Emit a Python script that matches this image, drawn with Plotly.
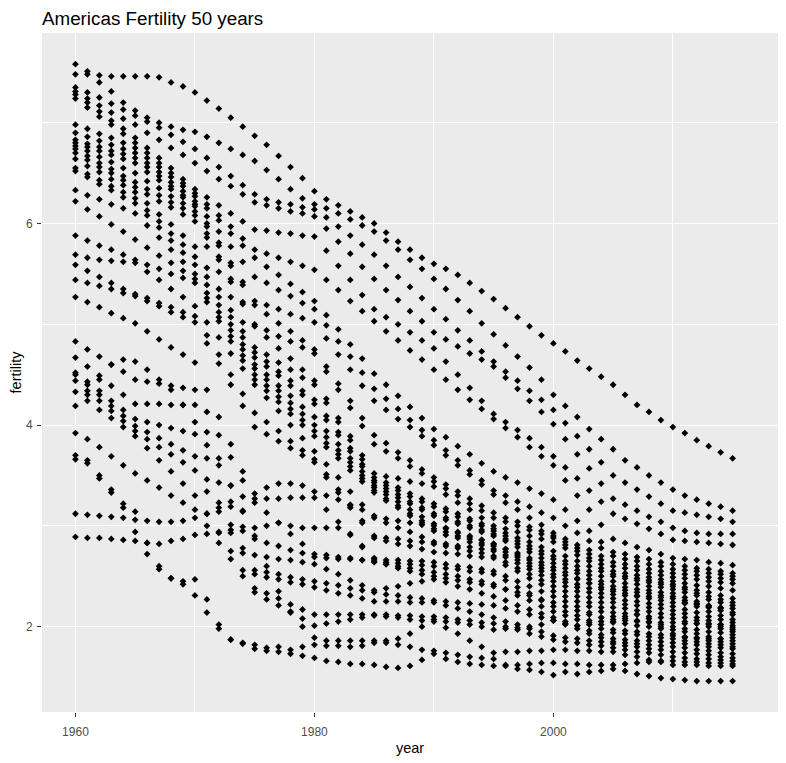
import plotly.graph_objects as go

# Jahre (x-Achse)
years = list(range(1960, 2016))

# Fertilitaet je Land, Werte 1960 ... 2015
s01 = [7.58, 7.51, 7.47, 7.46, 7.46, 7.46,
       7.46, 7.45, 7.40, 7.36, 7.30, 7.22, 7.14, 7.05, 6.96, 6.87,
       6.78, 6.67, 6.56, 6.45, 6.32, 6.24, 6.18, 6.12, 6.06, 6.00,
       5.91, 5.82, 5.74, 5.66, 5.60, 5.55, 5.49, 5.41, 5.33, 5.25,
       5.16, 5.07, 4.98, 4.89, 4.81, 4.73, 4.64, 4.56, 4.48, 4.40,
       4.30, 4.20, 4.13, 4.05, 3.98, 3.92, 3.85, 3.79, 3.73, 3.67]
s02 = [7.48, 7.48, 7.40, 7.31, 7.20, 7.12,
       7.05, 7.00, 6.96, 6.93, 6.91, 6.86, 6.80, 6.74, 6.68, 6.62,
       6.53, 6.44, 6.34, 6.25, 6.19, 6.15, 6.10, 6.04, 5.98, 5.92,
       5.83, 5.74, 5.64, 5.55, 5.45, 5.35, 5.24, 5.13, 5.01, 4.90,
       4.79, 4.68, 4.57, 4.45, 4.30, 4.19, 4.08, 3.96, 3.86, 3.76,
       3.65, 3.58, 3.50, 3.43, 3.36, 3.30, 3.26, 3.22, 3.19, 3.15]
s03 = [7.35, 7.30, 7.25, 7.19, 7.13, 7.07,
       7.01, 6.95, 6.88, 6.81, 6.74, 6.65, 6.56, 6.47, 6.38, 6.29,
       6.24, 6.21, 6.19, 6.16, 6.14, 6.06, 5.97, 5.88, 5.79, 5.69,
       5.58, 5.47, 5.37, 5.26, 5.15, 5.05, 4.94, 4.84, 4.73, 4.63,
       4.53, 4.44, 4.34, 4.25, 4.15, 4.02, 3.89, 3.76, 3.63, 3.50,
       3.43, 3.36, 3.29, 3.22, 3.15, 3.13, 3.11, 3.09, 3.07, 3.04]
s04 = [7.31, 7.24, 7.17, 7.10, 7.04, 6.98,
       6.90, 6.83, 6.75, 6.68, 6.60, 6.52, 6.44, 6.37, 6.29, 6.21,
       6.18, 6.15, 6.12, 6.10, 6.07, 5.95, 5.82, 5.70, 5.57, 5.45,
       5.34, 5.24, 5.13, 5.03, 4.92, 4.85, 4.78, 4.71, 4.65, 4.58,
       4.47, 4.36, 4.24, 4.13, 4.01, 3.86, 3.71, 3.57, 3.42, 3.27,
       3.21, 3.15, 3.09, 3.04, 2.98, 2.95, 2.93, 2.92, 2.92, 2.92]
s05 = [7.28, 7.20, 7.11, 7.02, 6.94, 6.85,
       6.75, 6.65, 6.55, 6.44, 6.34, 6.26, 6.18, 6.10, 6.02, 5.94,
       5.93, 5.91, 5.90, 5.88, 5.87, 5.73, 5.58, 5.44, 5.29, 5.15,
       5.07, 5.00, 4.92, 4.84, 4.76, 4.63, 4.50, 4.37, 4.24, 4.11,
       4.03, 3.95, 3.87, 3.78, 3.69, 3.58, 3.47, 3.35, 3.24, 3.12,
       3.07, 3.02, 2.97, 2.92, 2.86, 2.85, 2.84, 2.83, 2.82, 2.81]
s06 = [7.24, 7.15, 7.06, 6.98, 6.89, 6.80,
       6.70, 6.60, 6.50, 6.40, 6.30, 6.19, 6.08, 5.97, 5.85, 5.74,
       5.70, 5.66, 5.62, 5.58, 5.54, 5.44, 5.34, 5.23, 5.13, 5.03,
       4.93, 4.84, 4.74, 4.65, 4.55, 4.45, 4.35, 4.25, 4.16, 4.06,
       3.97, 3.88, 3.78, 3.69, 3.60, 3.45, 3.30, 3.16, 3.01, 2.87,
       2.83, 2.79, 2.76, 2.72, 2.68, 2.67, 2.66, 2.64, 2.63, 2.61]
s07 = [6.98, 6.94, 6.89, 6.85, 6.80, 6.75,
       6.65, 6.56, 6.46, 6.37, 6.27, 6.15, 6.03, 5.90, 5.78, 5.66,
       5.57, 5.49, 5.40, 5.32, 5.23, 5.09, 4.95, 4.80, 4.66, 4.51,
       4.40, 4.29, 4.18, 4.07, 3.96, 3.88, 3.79, 3.71, 3.62, 3.54,
       3.48, 3.43, 3.37, 3.32, 3.26, 3.16, 3.05, 2.95, 2.84, 2.74,
       2.72, 2.69, 2.67, 2.64, 2.62, 2.60, 2.58, 2.57, 2.55, 2.53]
s08 = [6.90, 6.86, 6.82, 6.78, 6.74, 6.70,
       6.60, 6.51, 6.41, 6.32, 6.22, 6.07, 5.92, 5.77, 5.62, 5.47,
       5.41, 5.34, 5.28, 5.21, 5.15, 4.99, 4.83, 4.68, 4.52, 4.36,
       4.26, 4.16, 4.05, 3.95, 3.85, 3.75, 3.65, 3.55, 3.45, 3.35,
       3.30, 3.24, 3.19, 3.13, 3.08, 3.00, 2.93, 2.85, 2.78, 2.70,
       2.67, 2.65, 2.62, 2.60, 2.57, 2.56, 2.55, 2.53, 2.52, 2.50]
s09 = [6.83, 6.79, 6.76, 6.72, 6.69, 6.65,
       6.56, 6.47, 6.37, 6.28, 6.19, 6.00, 5.81, 5.61, 5.42, 5.23,
       5.19, 5.15, 5.10, 5.06, 5.02, 4.86, 4.70, 4.55, 4.39, 4.24,
       4.15, 4.06, 3.98, 3.89, 3.80, 3.70, 3.60, 3.51, 3.41, 3.31,
       3.23, 3.16, 3.08, 3.01, 2.93, 2.87, 2.81, 2.76, 2.70, 2.64,
       2.62, 2.60, 2.57, 2.55, 2.53, 2.52, 2.51, 2.49, 2.48, 2.47]
s10 = [6.80, 6.76, 6.72, 6.68, 6.64, 6.60,
       6.51, 6.43, 6.34, 6.26, 6.17, 5.97, 5.78, 5.58, 5.39, 5.19,
       5.10, 5.01, 4.93, 4.84, 4.75, 4.58, 4.41, 4.24, 4.07, 3.90,
       3.82, 3.73, 3.65, 3.56, 3.48, 3.41, 3.34, 3.27, 3.20, 3.13,
       3.08, 3.04, 2.99, 2.95, 2.90, 2.84, 2.78, 2.72, 2.66, 2.60,
       2.58, 2.56, 2.53, 2.51, 2.49, 2.48, 2.47, 2.45, 2.44, 2.43]
s11 = [6.77, 6.72, 6.66, 6.61, 6.55, 6.50,
       6.42, 6.35, 6.27, 6.20, 6.12, 5.90, 5.67, 5.45, 5.22, 5.00,
       4.94, 4.88, 4.83, 4.77, 4.71, 4.53, 4.35, 4.17, 3.99, 3.81,
       3.74, 3.67, 3.59, 3.52, 3.44, 3.37, 3.30, 3.22, 3.15, 3.08,
       3.04, 3.00, 2.96, 2.92, 2.88, 2.81, 2.75, 2.68, 2.62, 2.55,
       2.53, 2.51, 2.49, 2.47, 2.45, 2.43, 2.41, 2.40, 2.38, 2.36]
s12 = [6.74, 6.67, 6.60, 6.54, 6.47, 6.41,
       6.34, 6.28, 6.21, 6.15, 6.08, 5.86, 5.64, 5.42, 5.20, 4.98,
       4.87, 4.76, 4.66, 4.55, 4.44, 4.26, 4.07, 3.89, 3.70, 3.52,
       3.49, 3.47, 3.44, 3.42, 3.39, 3.31, 3.23, 3.16, 3.08, 3.00,
       2.97, 2.94, 2.90, 2.87, 2.84, 2.78, 2.71, 2.65, 2.58, 2.52,
       2.50, 2.48, 2.46, 2.44, 2.42, 2.39, 2.36, 2.34, 2.31, 2.28]
s13 = [6.70, 6.63, 6.56, 6.50, 6.43, 6.36,
       6.29, 6.22, 6.16, 6.09, 6.02, 5.77, 5.52, 5.27, 5.02, 4.77,
       4.70, 4.62, 4.55, 4.47, 4.40, 4.22, 4.03, 3.85, 3.66, 3.48,
       3.43, 3.38, 3.32, 3.27, 3.22, 3.17, 3.12, 3.07, 3.02, 2.97,
       2.93, 2.88, 2.84, 2.79, 2.75, 2.70, 2.65, 2.60, 2.55, 2.50,
       2.48, 2.46, 2.44, 2.42, 2.40, 2.37, 2.33, 2.30, 2.27, 2.24]
s14 = [6.64, 6.57, 6.51, 6.44, 6.38, 6.31,
       6.20, 6.09, 5.99, 5.88, 5.77, 5.56, 5.35, 5.14, 4.93, 4.72,
       4.63, 4.53, 4.44, 4.34, 4.25, 4.09, 3.93, 3.77, 3.61, 3.45,
       3.40, 3.35, 3.29, 3.24, 3.19, 3.14, 3.09, 3.05, 3.00, 2.95,
       2.90, 2.85, 2.80, 2.75, 2.70, 2.65, 2.60, 2.55, 2.50, 2.45,
       2.43, 2.42, 2.40, 2.39, 2.37, 2.34, 2.31, 2.27, 2.24, 2.21]
s15 = [6.55, 6.49, 6.43, 6.37, 6.31, 6.25,
       6.13, 6.02, 5.90, 5.79, 5.67, 5.47, 5.27, 5.07, 4.87, 4.67,
       4.58, 4.49, 4.39, 4.30, 4.21, 4.05, 3.90, 3.74, 3.59, 3.43,
       3.37, 3.31, 3.24, 3.18, 3.12, 3.08, 3.04, 3.00, 2.96, 2.92,
       2.87, 2.82, 2.77, 2.72, 2.67, 2.62, 2.56, 2.51, 2.45, 2.40,
       2.39, 2.37, 2.36, 2.34, 2.33, 2.29, 2.25, 2.21, 2.18, 2.14]
s16 = [6.52, 6.46, 6.39, 6.33, 6.26, 6.20,
       6.08, 5.96, 5.83, 5.71, 5.59, 5.39, 5.19, 5.00, 4.80, 4.60,
       4.50, 4.39, 4.29, 4.18, 4.08, 3.94, 3.81, 3.67, 3.54, 3.40,
       3.34, 3.28, 3.22, 3.16, 3.10, 3.06, 3.02, 2.98, 2.94, 2.90,
       2.85, 2.79, 2.74, 2.68, 2.63, 2.58, 2.53, 2.47, 2.42, 2.37,
       2.36, 2.34, 2.33, 2.31, 2.30, 2.26, 2.23, 2.19, 2.16, 2.12]
s17 = [6.33, 6.28, 6.24, 6.19, 6.15, 6.10,
       5.98, 5.86, 5.74, 5.62, 5.50, 5.31, 5.12, 4.94, 4.75, 4.56,
       4.45, 4.34, 4.22, 4.11, 4.00, 3.88, 3.75, 3.63, 3.50, 3.38,
       3.31, 3.24, 3.16, 3.09, 3.02, 2.98, 2.94, 2.90, 2.86, 2.82,
       2.77, 2.73, 2.68, 2.64, 2.59, 2.54, 2.48, 2.43, 2.37, 2.32,
       2.31, 2.30, 2.30, 2.29, 2.28, 2.24, 2.20, 2.15, 2.11, 2.07]
s18 = [6.22, 6.14, 6.07, 5.99, 5.92, 5.84,
       5.76, 5.68, 5.61, 5.53, 5.45, 5.26, 5.07, 4.88, 4.69, 4.50,
       4.39, 4.28, 4.16, 4.05, 3.94, 3.82, 3.71, 3.59, 3.47, 3.35,
       3.27, 3.20, 3.12, 3.05, 2.97, 2.94, 2.90, 2.87, 2.83, 2.80,
       2.74, 2.69, 2.63, 2.58, 2.52, 2.47, 2.42, 2.38, 2.33, 2.28,
       2.26, 2.25, 2.23, 2.22, 2.20, 2.17, 2.14, 2.10, 2.07, 2.04]
s19 = [5.88, 5.83, 5.78, 5.74, 5.69, 5.64,
       5.59, 5.55, 5.50, 5.46, 5.41, 5.22, 5.03, 4.83, 4.64, 4.45,
       4.34, 4.23, 4.11, 4.00, 3.89, 3.78, 3.67, 3.55, 3.44, 3.33,
       3.25, 3.18, 3.10, 3.03, 2.95, 2.91, 2.88, 2.84, 2.81, 2.77,
       2.71, 2.66, 2.60, 2.55, 2.49, 2.44, 2.39, 2.34, 2.29, 2.24,
       2.22, 2.21, 2.19, 2.18, 2.16, 2.13, 2.09, 2.06, 2.02, 1.99]
s20 = [5.69, 5.66, 5.64, 5.63, 5.62, 5.61,
       5.52, 5.44, 5.35, 5.27, 5.18, 5.02, 4.87, 4.71, 4.56, 4.40,
       4.27, 4.14, 4.00, 3.87, 3.74, 3.61, 3.48, 3.34, 3.21, 3.08,
       3.03, 2.98, 2.94, 2.89, 2.84, 2.82, 2.80, 2.79, 2.77, 2.75,
       2.69, 2.63, 2.57, 2.51, 2.45, 2.40, 2.35, 2.29, 2.24, 2.19,
       2.18, 2.16, 2.15, 2.13, 2.12, 2.09, 2.06, 2.03, 2.00, 1.97]
s21 = [5.59, 5.53, 5.47, 5.41, 5.35, 5.30,
       5.26, 5.21, 5.17, 5.12, 5.08, 4.89, 4.70, 4.50, 4.31, 4.12,
       4.03, 3.94, 3.84, 3.75, 3.66, 3.51, 3.36, 3.20, 3.05, 2.90,
       2.88, 2.87, 2.85, 2.84, 2.82, 2.80, 2.78, 2.75, 2.73, 2.70,
       2.64, 2.58, 2.52, 2.46, 2.40, 2.35, 2.30, 2.24, 2.19, 2.14,
       2.13, 2.12, 2.10, 2.09, 2.08, 2.05, 2.03, 2.00, 1.98, 1.95]
s22 = [5.44, 5.41, 5.38, 5.35, 5.31, 5.28,
       5.23, 5.18, 5.12, 5.07, 5.02, 4.81, 4.61, 4.40, 4.19, 3.98,
       3.91, 3.84, 3.77, 3.70, 3.63, 3.48, 3.33, 3.18, 3.03, 2.88,
       2.85, 2.82, 2.80, 2.77, 2.74, 2.73, 2.72, 2.70, 2.69, 2.68,
       2.61, 2.55, 2.48, 2.42, 2.35, 2.30, 2.25, 2.20, 2.15, 2.10,
       2.08, 2.06, 2.04, 2.02, 2.00, 1.98, 1.97, 1.95, 1.94, 1.92]
s23 = [5.27, 5.22, 5.17, 5.11, 5.06, 5.01,
       4.93, 4.85, 4.77, 4.70, 4.62, 4.35, 4.08, 3.81, 3.54, 3.27,
       3.27, 3.27, 3.28, 3.28, 3.28, 3.16, 3.04, 2.91, 2.79, 2.67,
       2.66, 2.66, 2.65, 2.65, 2.64, 2.62, 2.60, 2.59, 2.57, 2.55,
       2.50, 2.45, 2.40, 2.35, 2.30, 2.25, 2.20, 2.14, 2.09, 2.04,
       2.03, 2.01, 2.00, 1.98, 1.97, 1.95, 1.93, 1.90, 1.88, 1.86]
s24 = [4.83, 4.75, 4.68, 4.60, 4.53, 4.45,
       4.43, 4.41, 4.39, 4.37, 4.35, 4.13, 3.90, 3.68, 3.45, 3.23,
       3.13, 3.03, 2.92, 2.82, 2.72, 2.71, 2.69, 2.68, 2.66, 2.65,
       2.64, 2.63, 2.62, 2.61, 2.60, 2.58, 2.57, 2.55, 2.54, 2.52,
       2.46, 2.39, 2.33, 2.26, 2.20, 2.15, 2.11, 2.06, 2.02, 1.97,
       1.96, 1.95, 1.93, 1.92, 1.91, 1.89, 1.88, 1.86, 1.85, 1.83]
s25 = [4.67, 4.58, 4.49, 4.39, 4.30, 4.21,
       4.21, 4.21, 4.20, 4.20, 4.20, 3.93, 3.67, 3.40, 3.14, 2.87,
       2.83, 2.80, 2.76, 2.73, 2.69, 2.68, 2.67, 2.67, 2.66, 2.64,
       2.62, 2.60, 2.58, 2.56, 2.54, 2.52, 2.50, 2.47, 2.45, 2.42,
       2.37, 2.31, 2.26, 2.20, 2.15, 2.11, 2.07, 2.02, 1.98, 1.94,
       1.93, 1.92, 1.90, 1.89, 1.88, 1.86, 1.85, 1.83, 1.82, 1.80]
s26 = [4.52, 4.43, 4.34, 4.24, 4.15, 4.06,
       4.03, 4.00, 3.97, 3.94, 3.91, 3.67, 3.43, 3.19, 2.95, 2.71,
       2.69, 2.67, 2.66, 2.64, 2.62, 2.57, 2.52, 2.46, 2.41, 2.36,
       2.38, 2.40, 2.43, 2.45, 2.47, 2.44, 2.40, 2.37, 2.33, 2.30,
       2.26, 2.21, 2.17, 2.13, 2.09, 2.05, 2.01, 1.96, 1.92, 1.88,
       1.87, 1.86, 1.86, 1.85, 1.84, 1.83, 1.82, 1.80, 1.79, 1.78]
s27 = [4.50, 4.40, 4.30, 4.19, 4.09, 3.99,
       3.93, 3.87, 3.81, 3.75, 3.69, 3.46, 3.23, 3.01, 2.78, 2.56,
       2.54, 2.52, 2.49, 2.47, 2.45, 2.43, 2.41, 2.38, 2.36, 2.34,
       2.32, 2.31, 2.29, 2.28, 2.26, 2.25, 2.24, 2.23, 2.22, 2.21,
       2.18, 2.15, 2.12, 2.09, 2.06, 2.02, 1.98, 1.93, 1.89, 1.85,
       1.84, 1.83, 1.82, 1.81, 1.80, 1.79, 1.77, 1.76, 1.74, 1.73]
s28 = [4.44, 4.34, 4.24, 4.14, 4.04, 3.94,
       3.86, 3.78, 3.71, 3.63, 3.55, 3.34, 3.14, 2.93, 2.73, 2.52,
       2.49, 2.47, 2.44, 2.42, 2.39, 2.36, 2.33, 2.31, 2.28, 2.25,
       2.25, 2.25, 2.24, 2.24, 2.24, 2.21, 2.18, 2.15, 2.12, 2.09,
       2.05, 2.02, 1.98, 1.95, 1.91, 1.89, 1.88, 1.86, 1.85, 1.83,
       1.81, 1.80, 1.78, 1.77, 1.75, 1.74, 1.73, 1.72, 1.70, 1.69]
s29 = [4.33, 4.24, 4.15, 4.07, 3.98, 3.89,
       3.77, 3.65, 3.54, 3.42, 3.30, 3.12, 2.93, 2.75, 2.56, 2.38,
       2.33, 2.28, 2.22, 2.17, 2.12, 2.12, 2.12, 2.12, 2.12, 2.12,
       2.12, 2.11, 2.11, 2.10, 2.10, 2.09, 2.07, 2.06, 2.04, 2.03,
       2.00, 1.97, 1.93, 1.90, 1.87, 1.85, 1.84, 1.82, 1.81, 1.79,
       1.77, 1.75, 1.74, 1.72, 1.70, 1.69, 1.68, 1.68, 1.67, 1.66]
s30 = [3.92, 3.86, 3.78, 3.69, 3.60, 3.52,
       3.45, 3.38, 3.30, 3.23, 3.16, 3.00, 2.83, 2.67, 2.50, 2.34,
       2.27, 2.21, 2.14, 2.08, 2.01, 2.03, 2.05, 2.07, 2.09, 2.11,
       2.10, 2.09, 2.07, 2.06, 2.05, 1.99, 1.93, 1.86, 1.80, 1.74,
       1.75, 1.75, 1.76, 1.76, 1.77, 1.77, 1.76, 1.76, 1.75, 1.75,
       1.72, 1.70, 1.67, 1.65, 1.62, 1.62, 1.62, 1.61, 1.61, 1.61]
s31 = [3.12, 3.11, 3.10, 3.09, 3.08, 3.06,
       3.05, 3.04, 3.04, 3.05, 3.08, 3.12, 3.18, 3.24, 3.29, 3.32,
       3.38, 3.42, 3.42, 3.40, 3.34, 3.30, 3.26, 3.21, 3.16, 3.10,
       3.07, 3.05, 3.03, 3.01, 3.00, 2.97, 2.93, 2.89, 2.86, 2.82,
       2.77, 2.71, 2.66, 2.61, 2.56, 2.51, 2.47, 2.43, 2.39, 2.35,
       2.33, 2.31, 2.28, 2.26, 2.24, 2.23, 2.22, 2.20, 2.19, 2.18]
s32 = [2.89, 2.88, 2.88, 2.87, 2.86, 2.85,
       2.83, 2.82, 2.85, 2.87, 2.91, 2.92, 2.94, 2.96, 2.99, 2.98,
       3.00, 3.03, 3.00, 2.98, 2.98, 2.98, 2.98, 2.92, 2.80, 2.68,
       2.62, 2.58, 2.55, 2.52, 2.50, 2.48, 2.46, 2.44, 2.42, 2.40,
       2.37, 2.34, 2.31, 2.27, 2.24, 2.20, 2.16, 2.12, 2.09, 2.07,
       2.06, 2.05, 2.05, 2.04, 2.04, 2.03, 2.03, 2.02, 2.02, 2.01]
s33 = [3.66, 3.62, 3.47, 3.33, 3.18, 2.94,
       2.72, 2.57, 2.48, 2.45, 2.47, 2.27, 2.02, 1.87, 1.84, 1.82,
       1.79, 1.80, 1.77, 1.80, 1.82, 1.81, 1.81, 1.80, 1.81, 1.84,
       1.86, 1.88, 1.93, 2.00, 2.07, 2.05, 2.04, 2.02, 2.00, 1.97,
       1.98, 1.99, 2.00, 2.02, 2.06, 2.03, 2.01, 2.04, 2.05, 2.05,
       2.10, 2.12, 2.08, 2.00, 1.93, 1.90, 1.89, 1.88, 1.88, 1.89]
s34 = [3.70, 3.65, 3.50, 3.36, 3.22, 3.14,
       2.83, 2.60, 2.48, 2.42, 2.31, 2.14, 1.98, 1.87, 1.83, 1.78,
       1.76, 1.75, 1.73, 1.71, 1.69, 1.66, 1.65, 1.63, 1.63, 1.62,
       1.60, 1.59, 1.61, 1.67, 1.76, 1.74, 1.72, 1.70, 1.69, 1.68,
       1.62, 1.58, 1.57, 1.55, 1.52, 1.55, 1.53, 1.55, 1.56, 1.58,
       1.56, 1.53, 1.51, 1.49, 1.48, 1.47, 1.46, 1.46, 1.46, 1.46]
s35 = [4.19, 4.30, 4.45, 4.60, 4.65, 4.63,
       4.55, 4.45, 4.35, 4.20, 4.03, 3.80, 3.60, 3.40, 3.15, 2.90,
       2.60, 2.35, 2.15, 2.00, 1.89, 1.86, 1.86, 1.86, 1.86, 1.86,
       1.84, 1.82, 1.80, 1.77, 1.73, 1.68, 1.65, 1.63, 1.62, 1.61,
       1.61, 1.62, 1.63, 1.64, 1.64, 1.63, 1.63, 1.62, 1.62, 1.62,
       1.63, 1.64, 1.65, 1.66, 1.66, 1.65, 1.65, 1.64, 1.64, 1.63]

series = [s01, s02, s03, s04, s05, s06, s07, s08, s09, s10,
          s11, s12, s13, s14, s15, s16, s17, s18, s19, s20,
          s21, s22, s23, s24, s25, s26, s27, s28, s29, s30,
          s31, s32, s33, s34, s35]

# Achsenbeschriftungen
x_ticks = [1960, 1980, 2000]
x_minor = [1970, 1990, 2010]
y_ticks = [2, 4, 6]
y_minor = [3, 5, 7]

font_family = "Liberation Sans, Arial, sans-serif"

fig = go.Figure()

# alle Laender als schwarze Rauten
for werte in series:
    fig.add_trace(go.Scatter(
        x=years, y=werte,
        mode="markers",
        marker=dict(symbol="diamond", size=5.2, color="black"),
        showlegend=False,
        hoverinfo="x+y"
    ))

# die Seite hat 8 px Rand, deshalb ist die Figur etwas kleiner
fig.update_layout(
    width=778, height=755,
    margin=dict(l=34, r=8, t=25, b=51),
    paper_bgcolor="white",
    plot_bgcolor="#EBEBEB",
    font=dict(family=font_family, color="black"),
    title=dict(
        text="Americas Fertility 50 years",
        x=0, xref="paper", xanchor="left",
        y=1 - 10 / 755, yref="container", yanchor="middle",
        font=dict(size=18.8, color="black")
    ),
    xaxis=dict(
        range=[1957.2, 2018.8], automargin=False,
        tickmode="array", tickvals=x_ticks, ticktext=[str(v) for v in x_ticks],
        showgrid=True, gridcolor="white", gridwidth=1.1,
        minor=dict(tickmode="array", tickvals=x_minor, showgrid=True,
                   gridcolor="white", gridwidth=0.55, ticks=""),
        ticks="outside", ticklen=4, tickwidth=1.1, tickcolor="#333333",
        ticklabelstandoff=5,
        tickfont=dict(size=12, color="#4D4D4D"),
        zeroline=False, showline=False,
        title=dict(text="year", font=dict(size=14.5, color="black"), standoff=4)
    ),
    yaxis=dict(
        range=[1.153, 7.89], automargin=False,
        tickmode="array", tickvals=y_ticks, ticktext=[str(v) for v in y_ticks],
        showgrid=True, gridcolor="white", gridwidth=1.1,
        minor=dict(tickmode="array", tickvals=y_minor, showgrid=True,
                   gridcolor="white", gridwidth=0.55, ticks=""),
        ticks="outside", ticklen=4, tickwidth=1.1, tickcolor="#333333",
        ticklabelstandoff=2,
        tickfont=dict(size=12, color="#4D4D4D"),
        zeroline=False, showline=False,
        title=dict(text="fertility", font=dict(size=14.5, color="black"), standoff=4)
    ),
)

fig.write_html("out.html")
